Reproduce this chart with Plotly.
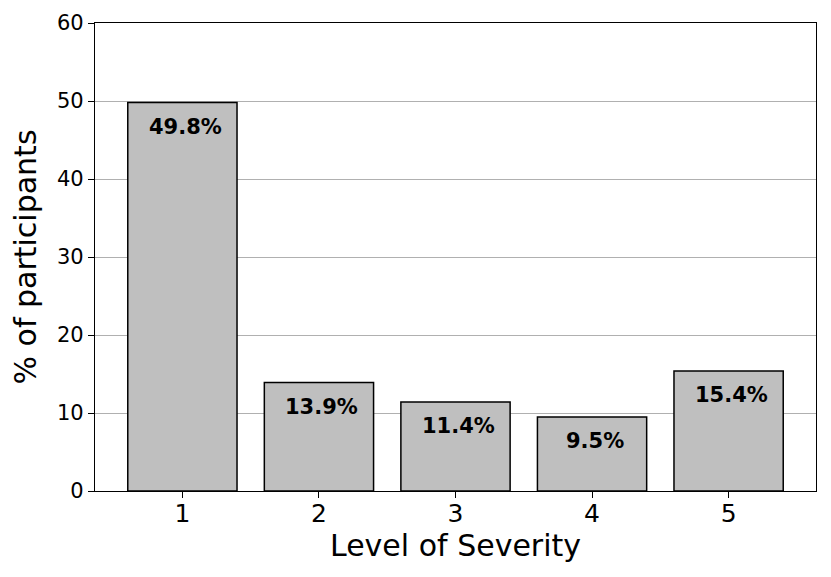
import plotly.graph_objects as go

levels = [1, 2, 3, 4, 5]
percentages = [49.8, 13.9, 11.4, 9.5, 15.4]
tick_labels = ["1", "2", "3", "4", "5"]
x_title = "Level of Severity"
y_title = "% of participants"

fig = go.Figure()
fig.add_trace(go.Bar(
    x=levels, y=percentages, width=0.8,
    marker=dict(color="#bfbfbf", line=dict(color="black", width=1.5)),
    hoverinfo="skip",
))

for x, v in zip(levels, percentages):
    fig.add_annotation(x=x, y=v, text=f"<b>{v:.1f}%</b>", showarrow=False,
                       yanchor="top", yshift=-10, xshift=3,
                       font=dict(family="DejaVu Sans", size=21, color="black"))

fig.update_layout(
    width=823, height=569,
    margin=dict(l=87, r=15, t=15, b=86),
    plot_bgcolor="white", paper_bgcolor="white",
    showlegend=False,
    font=dict(family="DejaVu Sans", color="black"),
    xaxis=dict(range=[0.36, 5.64], tickvals=levels, ticktext=tick_labels,
               ticks="outside", ticklen=6, tickwidth=1.2, tickcolor="black",
               showline=True, linecolor="black", linewidth=1.2, mirror=True,
               showgrid=False, tickfont=dict(size=25), automargin=False,
               ticklabelstandoff=-6,
               title=dict(text=x_title, font=dict(size=30), standoff=4)),
    yaxis=dict(range=[0, 60], tickvals=[0, 10, 20, 30, 40, 50, 60],
               ticks="outside", ticklen=6, tickwidth=1.2, tickcolor="black",
               showline=True, linecolor="black", linewidth=1.2, mirror=True,
               showgrid=True, gridcolor="#b0b0b0", gridwidth=1.2,
               zeroline=False, tickfont=dict(size=21), automargin=False,
               title=dict(text=y_title, font=dict(size=30), standoff=12)),
)

fig.write_html("out.html")
